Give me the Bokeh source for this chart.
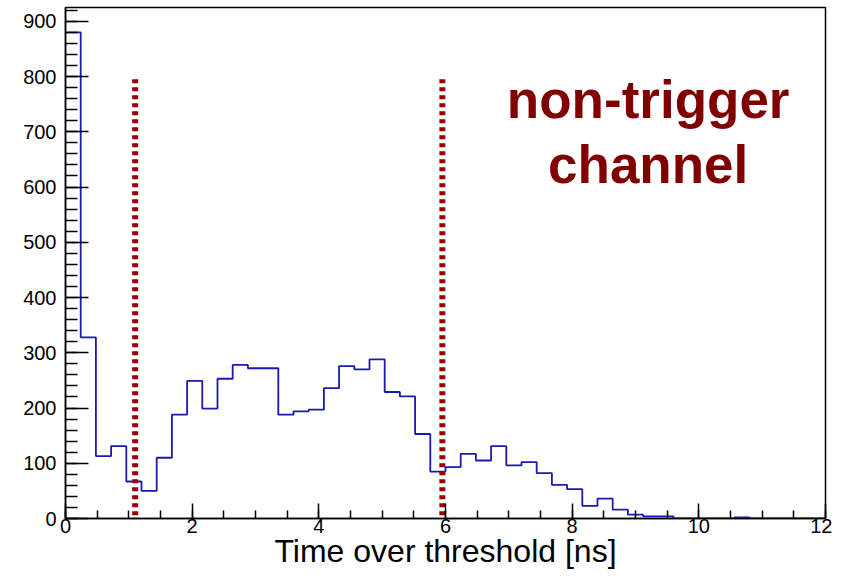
import numpy as np
from bokeh.plotting import figure
from bokeh.models import FixedTicker, Range1d
from bokeh.core.properties import value
from bokeh.embed import file_html
from bokeh.resources import INLINE

# Histogram: 50 bins over [0, 12] ns
bin_edges = np.linspace(0, 12, 51)
counts = [880, 328, 113, 131, 67, 50, 110, 188, 249, 199,
          253, 278, 272, 272, 188, 194, 197, 236, 276, 270,
          288, 229, 221, 153, 85, 93, 117, 105, 131, 96,
          102, 82, 61, 53, 23, 36, 16, 7, 4, 4,
          0, 0, 0, 0, 2, 0, 0, 0, 0, 0]

# Cut lines
cut_times = [1.1, 5.95]
cut_top = 795

x_ticks = [0, 2, 4, 6, 8, 10, 12]
y_ticks = [0, 100, 200, 300, 400, 500, 600, 700, 800, 900]
x_minor = list(np.arange(0, 12.01, 0.5))
y_minor = list(range(0, 921, 20))

annotation_lines = ["non-trigger", "channel"]

p = figure(width=832, height=571, output_backend="svg", toolbar_location=None,
           x_range=Range1d(0, 12), y_range=Range1d(0, 925),
           min_border_left=65, min_border_right=7, min_border_top=7,
           min_border_bottom=53)
p.background_fill_color = "white"
p.border_fill_color = "white"
p.outline_line_color = "black"
p.outline_line_width = 1.5
p.xgrid.visible = False
p.ygrid.visible = False

# Histogram outline
step_y = counts + [counts[-1]]
p.step(x=list(bin_edges), y=step_y, mode="after", line_color="#1a1ab0", line_width=1.8)

# Dashed cut lines
p.segment(x0=cut_times, y0=[cut_top] * len(cut_times), x1=cut_times, y1=[0] * len(cut_times),
          line_color="#990000", line_width=6, line_dash="4 4", line_cap="butt")

# Annotation text
p.text(x=[9.2, 9.2], y=[758, 641], text=annotation_lines,
       text_font=value("Liberation Sans"), text_font_style="bold",
       text_font_size="53px", text_color="#800000",
       text_align="center", text_baseline="alphabetic")

for ax in (p.xaxis[0], p.yaxis[0]):
    ax.axis_line_color = "black"
    ax.axis_line_width = 1.5
    ax.major_tick_line_color = "black"
    ax.major_tick_line_width = 1.5
    ax.minor_tick_line_color = "black"
    ax.minor_tick_line_width = 1.5
    ax.major_tick_out = 0
    ax.minor_tick_out = 0
    ax.major_label_text_font = "Liberation Sans"
    ax.major_label_text_font_size = "20px"
    ax.major_label_text_color = "black"

xa = p.xaxis[0]
xa.ticker = FixedTicker(ticks=x_ticks, minor_ticks=x_minor)
xa.major_tick_in = 15
xa.minor_tick_in = 8
xa.major_label_standoff = 0
xa.axis_label = "Time over threshold [ns]"
xa.axis_label_text_font = "Liberation Sans"
xa.axis_label_text_font_style = "normal"
xa.axis_label_text_font_size = "32px"
xa.axis_label_text_color = "black"
xa.axis_label_standoff = -3

ya = p.yaxis[0]
ya.ticker = FixedTicker(ticks=y_ticks, minor_ticks=y_minor)
ya.major_tick_in = 23
ya.minor_tick_in = 12
ya.major_label_standoff = 9

open("out.html", "w").write(file_html(p, INLINE))
